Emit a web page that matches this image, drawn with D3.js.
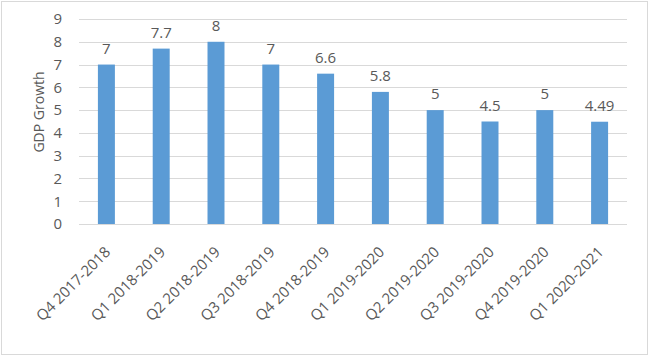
<!DOCTYPE html>
<html>
<head>
<meta charset="utf-8">
<script src="https://cdn.jsdelivr.net/npm/d3@7"></script>
<style>
  body { margin: 0; background: #fff; }
  text { font-family: "Open Sans", "Liberation Sans", Arial, sans-serif; fill: #595959; }
</style>
</head>
<body>
<div id="chart"></div>
<script>
// quarters and GDP growth values
var quarters = ['Q4 2017-2018', 'Q1 2018-2019', 'Q2 2018-2019', 'Q3 2018-2019', 'Q4 2018-2019',
    'Q1 2019-2020', 'Q2 2019-2020', 'Q3 2019-2020', 'Q4 2019-2020', 'Q1 2020-2021'];
var growth = [7, 7.7, 8, 7, 6.6, 5.8, 5, 4.5, 5, 4.49];
var yTicks = [0, 1, 2, 3, 4, 5, 6, 7, 8, 9];

var width = 649, height = 356;
var margin = { top: 19, right: 22, bottom: 132, left: 79 },
    w = width - margin.left - margin.right,
    h = height - margin.top - margin.bottom;

var data = quarters.map(function(q, i) { return { q: q, v: growth[i] }; });

var svg = d3.select("#chart")
    .append("svg")
    .attr("width", width)
    .attr("height", height);

// chart frame
svg.append("rect")
    .attr("x", 1.5).attr("y", 1.5)
    .attr("width", width - 3).attr("height", height - 3)
    .attr("fill", "white")
    .attr("stroke", "#d9d9d9");

var g = svg.append("g")
    .attr("transform", "translate(" + margin.left + "," + margin.top + ")");

var x = d3.scaleBand()
    .domain(quarters)
    .range([0, w])
    .paddingInner(0.69)
    .paddingOuter(0.345);

var y = d3.scaleLinear()
    .domain([0, 9])
    .range([h, 0]);

// gridlines
g.append("g")
    .selectAll("line")
    .data(yTicks)
    .enter()
    .append("line")
    .attr("x1", 0).attr("x2", w)
    .attr("y1", function(d) { return Math.round(y(d)) + 0.5; })
    .attr("y2", function(d) { return Math.round(y(d)) + 0.5; })
    .attr("stroke", "#d9d9d9")
    .attr("stroke-width", 1);

// y axis labels
var yAxis = g.append("g")
    .call(d3.axisLeft(y).tickValues(yTicks).tickSize(0).tickPadding(17));
yAxis.select(".domain").remove();
yAxis.selectAll("text")
    .style("font-size", "15px")
    .attr("fill", "#595959");

// bars
g.selectAll(".bar")
    .data(data)
    .enter()
    .append("rect")
    .attr("class", "bar")
    .attr("x", function(d) { return x(d.q); })
    .attr("width", x.bandwidth())
    .attr("y", function(d) { return y(d.v); })
    .attr("height", function(d) { return h - y(d.v); })
    .attr("fill", "#5b9bd5");

// value labels
g.selectAll(".lbl")
    .data(data)
    .enter()
    .append("text")
    .attr("class", "lbl")
    .attr("x", function(d) { return x(d.q) + x.bandwidth() / 2; })
    .attr("y", function(d) { return y(d.v) - 11; })
    .attr("text-anchor", "middle")
    .style("font-size", "15px")
    .attr("fill", "#404040")
    .text(function(d) { return d.v; });

// x axis
var xAxis = g.append("g")
    .attr("transform", "translate(0," + h + ")")
    .call(d3.axisBottom(x).tickSize(0).tickPadding(0));
xAxis.select(".domain").remove();
xAxis.selectAll("text")
    .style("font-size", "15px")
    .attr("fill", "#595959")
    .style("text-anchor", "end")
    .attr("dy", "0")
    .attr("transform", "translate(5,29) rotate(-45)");

// y axis title
g.append("text")
    .attr("transform", "rotate(-90)")
    .attr("x", -93)
    .attr("y", -35)
    .attr("text-anchor", "middle")
    .style("font-size", "14px")
    .attr("fill", "#595959")
    .text("GDP Growth");
</script>
</body>
</html>
